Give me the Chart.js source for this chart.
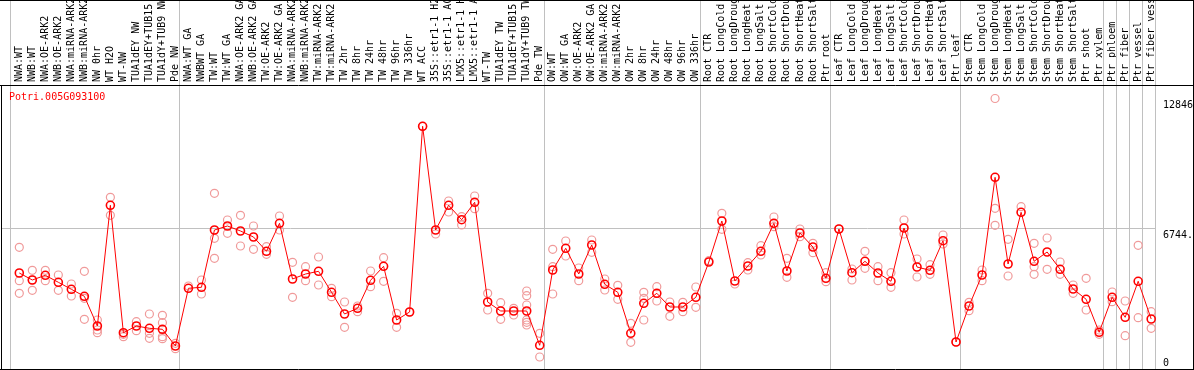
<!DOCTYPE html>
<html>
<head>
<meta charset="utf-8">
<script src="https://cdn.jsdelivr.net/npm/chart.js@4.4.1/dist/chart.umd.min.js"></script>
<style>
  html, body { margin: 0; padding: 0; background: #fff; }
  canvas { display: block; }
</style>
</head>
<body>
<canvas id="chart" width="1194" height="370"></canvas>
<script>
const geneName = 'Potri.005G093100';

const categories = [
  'NWA:WT', 'NWB:WT', 'NWA:OE-ARK2', 'NWB:OE-ARK2', 'NWA:miRNA-ARK2', 'NWB:miRNA-ARK2',
  'NW 0hr', 'WT H2O', 'WT-NW', 'TUA1dEY NW', 'TUA1dEY+TUB15 NW', 'TUA1dY+TUB9 NW', 'Pde NW',
  'NWA:WT GA', 'NWBWT GA', 'TW:WT', 'TW:WT GA', 'NWA:OE-ARK2 GA', 'NWB:OE-ARK2 GA',
  'TW:OE-ARK2', 'TW:OE-ARK2 GA', 'NWA:miRNA-ARK2 GA', 'NWB:miRNA-ARK2 GA', 'TW:miRNA-ARK2',
  'TW:miRNA-ARK2 GA', 'TW 2hr', 'TW 8hr', 'TW 24hr', 'TW 48hr', 'TW 96hr', 'TW 336hr',
  'WT ACC', '35S::etr1-1 H2O', '35S::etr1-1 ACC', 'LMX5::etr1-1 H2O', 'LMX5::etr1-1 ACC',
  'WT-TW', 'TUA1dEY TW', 'TUA1dEY+TUB15 TW', 'TUA1dY+TUB9 TW', 'Pde TW',
  'OW:WT', 'OW:WT GA', 'OW:OE-ARK2', 'OW:OE-ARK2 GA', 'OW:miRNA-ARK2', 'OW:miRNA-ARK2 GA',
  'OW 2hr', 'OW 8hr', 'OW 24hr', 'OW 48hr', 'OW 96hr', 'OW 336hr',
  'Root CTR', 'Root LongCold', 'Root LongDrought', 'Root LongHeat', 'Root LongSalt',
  'Root ShortCold', 'Root ShortDrought', 'Root ShortHeat', 'Root ShortSalt', 'Ptr root',
  'Leaf CTR', 'Leaf LongCold', 'Leaf LongDrought', 'Leaf LongHeat', 'Leaf LongSalt',
  'Leaf ShortCold', 'Leaf ShortDrought', 'Leaf ShortHeat', 'Leaf ShortSalt', 'Ptr leaf',
  'Stem CTR', 'Stem LongCold', 'Stem LongDrought', 'Stem LongHeat', 'Stem LongSalt',
  'Stem ShortCold', 'Stem ShortDrought', 'Stem ShortHeat', 'Stem ShortSalt',
  'Ptr shoot', 'Ptr xylem', 'Ptr phloem', 'Ptr fiber', 'Ptr vessel', 'Ptr fiber vessel'
];

// index of the first sample of each experiment block (last one closes the plot)
const groupStarts = [0, 13, 41, 53, 63, 73, 84, 85, 86, 87, 88];

const meanValues = [
  4643, 4314, 4535, 4206, 3877, 3548, 2151, 7826, 1836, 2151,
  2044, 1997, 1211, 3924, 3971, 6665, 6853, 6618, 6335, 5664,
  6980, 4361, 4596, 4723, 3736, 2716, 2984, 4300, 4958, 2434,
  2810, 11540, 6665, 7826, 7148, 7967, 3280, 2857, 2857, 2857,
  1245, 4784, 5805, 4596, 5959, 4112, 3736, 1809, 3219, 3689,
  3045, 3045, 3501, 5160, 7088, 4267, 4972, 5664, 6980, 4737,
  6524, 5865, 4394, 6712, 4657, 5193, 4643, 4253, 6759, 4925,
  4770, 6161, 1399, 3092, 4549, 9142, 5066, 7497, 5193, 5630,
  4817, 3891, 3407, 1856, 3501, 2561, 4253, 2481
];

const replicateValues = [
  [5852, 4281, 3689], [4770, 4314, 3830], [4770, 4281], [4549, 3830], [4126, 3562],
  [4723, 3454, 2467], [2434, 1963, 1836], [8202, 7356], [1762, 1648], [2353, 1930],
  [2716, 1809, 1574], [2655, 2306, 1648, 1554], [1339, 1084], [4032], [4314, 3656],
  [8390, 6275, 5335], [7135, 6510], [7356, 5912], [6853, 5758], [5879, 5523],
  [7323, 6665], [5147, 3501], [4941, 4281], [5395, 4079], [3924, 3529],
  [3280, 2091], [3092, 2823], [4737, 3999], [5362, 4253], [2749, 2091],
  [2810], [11540], [6477], [8028, 7511], [7289, 6900],
  [8263, 7666], [3689, 2904], [3246, 2467], [2984, 2669], [3797, 3575, 3139, 2434, 2326, 2198],
  [1809, 694], [5758, 4941, 3656], [6147, 5442], [4878, 4281], [6194, 5617],
  [4361, 3844], [4063, 3407], [2279, 1386], [3736, 3454, 2434], [3999, 3327],
  [3280, 2608], [3266, 2823], [3985, 3031], [5221], [7450, 6698],
  [4126], [5127, 4784], [5926, 5489], [7276, 6819], [5335, 4441],
  [6712, 6349], [6040, 5597], [4657, 4234], [6712], [4831, 4314],
  [5664, 4864], [4941, 4281], [4657, 3971], [7135, 6477], [5301, 4455],
  [5033, 4582], [6430, 6006], [1399], [3266, 2870], [4784, 4281],
  [12846, 7685, 6886], [6228, 4502], [7760], [6040, 4941, 4582], [6289, 4817],
  [5160, 4582], [4079, 3689], [4394, 2904], [1963, 1762], [3750, 3293],
  [3327, 1695], [5946, 2541], [2823, 2044]
];

const yTickValues = [0, 6744, 12846];
const yTickLabels = ['0', '6744.', '12846'];

const MONO = '"DejaVu Sans Mono", monospace';
const xMin = -1.33;
const xMax = 87.37;

const meanPoints = meanValues.map((v, i) => ({ x: i, y: v }));
const repPoints = [];
replicateValues.forEach((reps, i) => {
  reps.forEach(v => repPoints.push({ x: i, y: v }));
});

function align(p) {
  return Math.round(p - 0.5) + 0.5;
}

// frame, header grid lines, right hand values and the gene name
const framePlugin = {
  id: 'frame',
  afterDraw(chart) {
    const { ctx, chartArea: a, scales, width, height } = chart;
    ctx.save();
    ctx.lineWidth = 1;

    ctx.strokeStyle = '#c0c0c0';
    scales.x.ticks.forEach(t => {
      const px = align(scales.x.getPixelForValue(t.value));
      ctx.beginPath();
      ctx.moveTo(px, 0);
      ctx.lineTo(px, a.top);
      ctx.stroke();
    });

    ctx.strokeStyle = '#000';
    ctx.beginPath();
    ctx.moveTo(0, 0.5); ctx.lineTo(width, 0.5);
    ctx.moveTo(0, a.top - 0.5); ctx.lineTo(width, a.top - 0.5);
    ctx.moveTo(0, a.bottom + 0.5); ctx.lineTo(width, a.bottom + 0.5);
    ctx.moveTo(a.left - 0.5, a.top); ctx.lineTo(a.left - 0.5, height);
    ctx.moveTo(width - 0.5, 0); ctx.lineTo(width - 0.5, height);
    ctx.stroke();

    ctx.font = '10px ' + MONO;
    ctx.textAlign = 'left';
    ctx.textBaseline = 'alphabetic';
    ctx.fillStyle = '#000';
    yTickValues.forEach((v, i) => {
      const py = scales.y.getPixelForValue(v);
      ctx.fillText(yTickLabels[i], a.right + 7, Math.min(py + 9.5, a.bottom - 3));
    });

    ctx.fillStyle = '#ff0000';
    ctx.fillText(geneName, a.left + 7, a.top + 14);
    ctx.restore();
  }
};

new Chart(document.getElementById('chart'), {
  type: 'line',
  data: {
    datasets: [
      {
        label: 'mean',
        data: meanPoints,
        borderColor: '#ff0000',
        borderWidth: 1,
        tension: 0,
        fill: false,
        pointRadius: 4,
        pointBorderWidth: 1.6,
        pointBorderColor: '#ff0000',
        pointBackgroundColor: 'rgba(0,0,0,0)'
      },
      {
        label: 'replicates',
        data: repPoints,
        showLine: false,
        pointRadius: 4,
        pointBorderWidth: 1.2,
        pointBorderColor: '#f09a9a',
        pointBackgroundColor: 'rgba(0,0,0,0)'
      }
    ]
  },
  options: {
    responsive: false,
    animation: false,
    devicePixelRatio: 1,
    layout: { autoPadding: false, padding: { left: 2, right: 0, top: 0, bottom: 1 } },
    plugins: {
      legend: { display: false },
      tooltip: { enabled: false }
    },
    scales: {
      x: {
        type: 'linear',
        position: 'bottom',
        min: xMin,
        max: xMax,
        afterBuildTicks: s => { s.ticks = groupStarts.map(k => ({ value: k - 0.66 })); },
        afterFit: s => { s.height = 0; },
        ticks: { display: false },
        grid: { color: '#c0c0c0', lineWidth: 1, drawTicks: false },
        border: { display: false }
      },
      x2: {
        type: 'linear',
        position: 'top',
        min: xMin,
        max: xMax,
        afterBuildTicks: s => { s.ticks = categories.map((c, i) => ({ value: i })); },
        afterFit: s => { s.height = 86; s.paddingLeft = 0; s.paddingRight = 0; },
        ticks: {
          autoSkip: false,
          minRotation: 90,
          maxRotation: 90,
          padding: 4,
          labelOffset: 12,
          color: '#000',
          font: { family: MONO, size: 10, lineHeight: 1.2 },
          callback: v => categories[v]
        },
        grid: { display: false, drawTicks: false },
        border: { display: false }
      },
      y: {
        position: 'right',
        min: 130,
        max: 13434,
        afterBuildTicks: s => { s.ticks = yTickValues.map(v => ({ value: v })); },
        afterFit: s => { s.width = 38; },
        ticks: { display: false },
        grid: {
          drawTicks: false,
          color: ctx => (ctx.tick && ctx.tick.value === yTickValues[1]) ? '#c0c0c0' : 'rgba(0,0,0,0)'
        },
        border: { display: false }
      }
    }
  },
  plugins: [framePlugin]
});
</script>
</body>
</html>
